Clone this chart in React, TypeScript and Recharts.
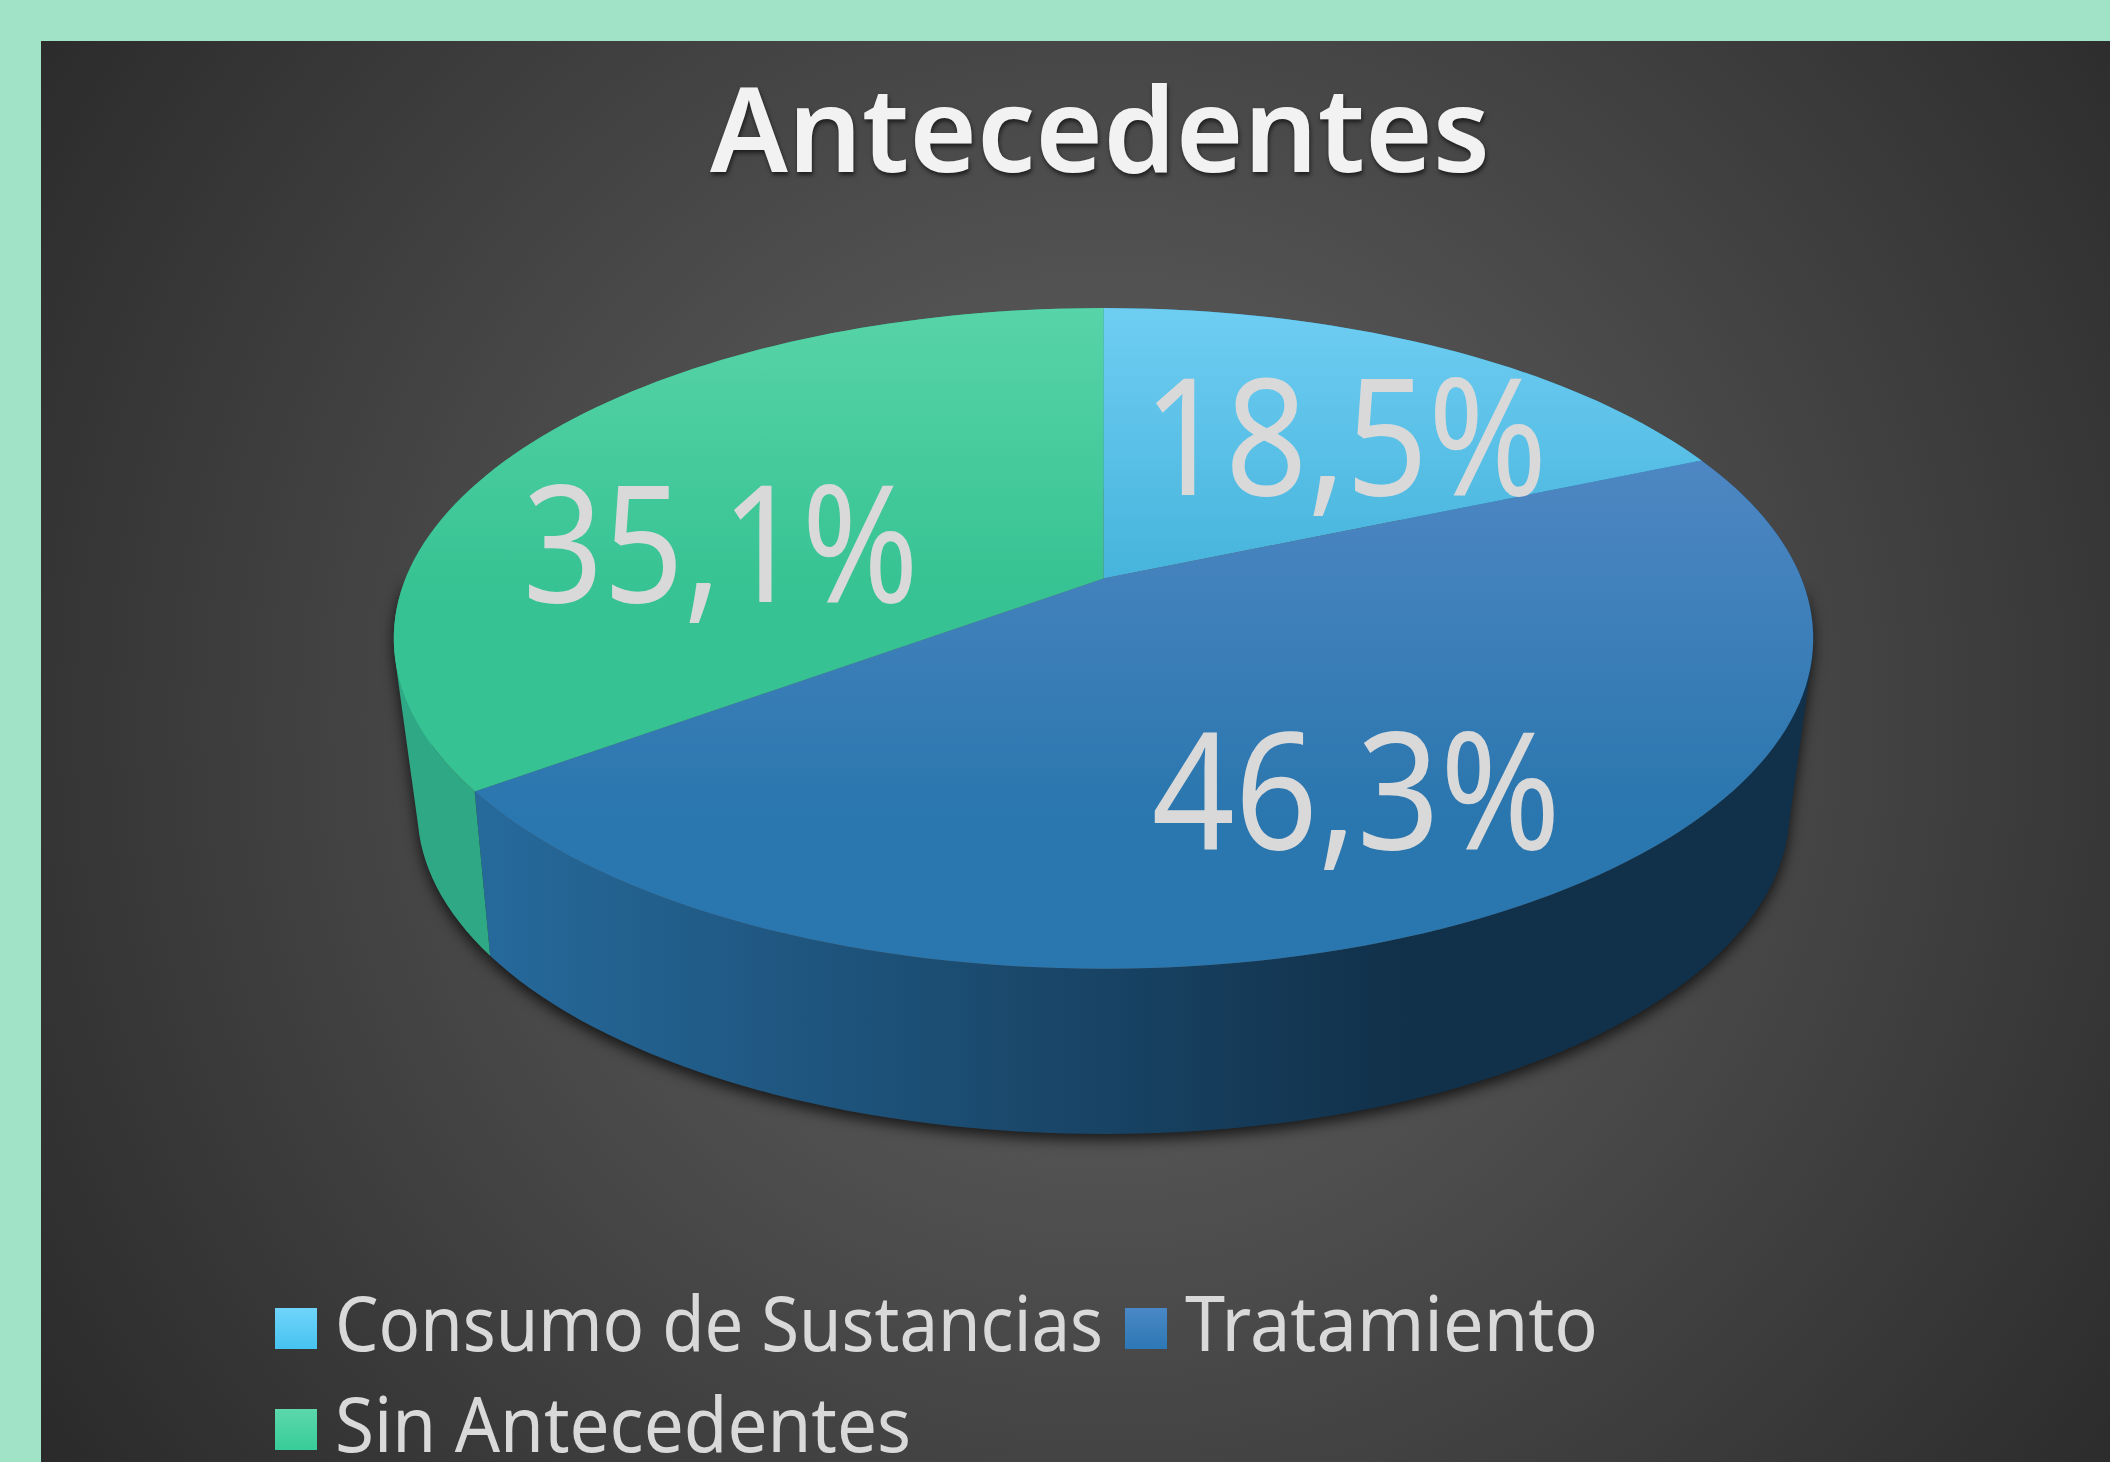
import { Legend, Pie, PieChart } from 'recharts';

const categories = ['Consumo de Sustancias', 'Tratamiento', 'Sin Antecedentes'];
const percentages = [18.5, 46.3, 35.1];
const percentLabels = ['18,5%', '46,3%', '35,1%'];
const chartTitle = 'Antecedentes';

const topColors = [
  ['#6FCDF2', '#46B4DC'],
  ['#4E87C3', '#2A76AE'],
  ['#57D4A8', '#36C292'],
];
// where each top gradient reaches its end colour
const topStops = [1, 0.7, 0.6];
const wallColors = [
  ['#2E92B5', '#2E92B5'],
  ['#266A9C', '#113049'],
  ['#2FA985', '#2FA783'],
];
const legendColors = [
  ['#70D4FA', '#46C3F0'],
  ['#4A88C6', '#2C78B5'],
  ['#5CD8AC', '#37CC98'],
];
// nudges from the projected mid-slice point to the text anchor
const labelNudges = [
  [-1, 85],
  [-21, 53],
  [30, 119],
];
const labelWidths = [404, 409, 396];
const legendWidths = [768, 413, 576];

const WIDTH = 2110;
const HEIGHT = 1462;
const FONT = '"Noto Sans", sans-serif';

// perspective of the top disc
const SQUASH = 0.4577;
const TILT = 0.181;
// perspective of the lower rim
const LOW_WIDTH = 0.963;
const LOW_SQUASH = 0.444;
const LOW_TILT = 0.2;
const LOW_DROP = 168;

const rows = categories.map((name, i) => ({ name, value: percentages[i], fill: legendColors[i][1] }));

function project(p: any, deg: number, r = 1) {
  const rad = (deg * Math.PI) / 180;
  const u = r * Math.cos(rad);
  const v = -r * Math.sin(rad);
  const w = 1 - TILT * v;
  return { x: p.cx + (p.outerRadius * u) / w, y: p.cy + (p.outerRadius * SQUASH * v) / w };
}

function projectLow(p: any, deg: number) {
  const rad = (deg * Math.PI) / 180;
  const u = Math.cos(rad);
  const v = -Math.sin(rad);
  const w = 1 - LOW_TILT * v;
  return {
    x: p.cx + (p.outerRadius * LOW_WIDTH * u) / w,
    y: p.cy + LOW_DROP + (p.outerRadius * LOW_SQUASH * v) / w,
  };
}

function sweep(p: any) {
  const steps = Math.ceil(Math.abs(p.endAngle - p.startAngle) / 1.5);
  const angles: number[] = [];
  for (let i = 0; i <= steps; i++) {
    angles.push(p.startAngle + ((p.endAngle - p.startAngle) * i) / steps);
  }
  return angles;
}

// one quad per step so the straight silhouette between the two rims gets filled
function wallPath(p: any, frontOnly = false) {
  const angles = sweep(p);
  let d = '';
  for (let i = 0; i < angles.length - 1; i++) {
    if (frontOnly && Math.sin((angles[i] * Math.PI) / 180) > 0) continue;
    const quad = [
      project(p, angles[i]),
      project(p, angles[i + 1]),
      projectLow(p, angles[i + 1]),
      projectLow(p, angles[i]),
    ];
    let area = 0;
    quad.forEach((a, k) => {
      const b = quad[(k + 1) % 4];
      area += a.x * b.y - b.x * a.y;
    });
    if (area < 0) quad.reverse();
    d += `M${quad.map((q) => `${q.x},${q.y}`).join(' L')} Z `;
  }
  return d;
}

function TopFace(props: any) {
  const i = categories.indexOf(props.name);
  const arc = sweep(props).map((a) => {
    const q = project(props, a);
    return `${q.x},${q.y}`;
  });
  return <path d={`M${props.cx},${props.cy} L${arc.join(' L')} Z`} fill={`url(#top${i})`} />;
}

function WallFace(props: any) {
  const i = categories.indexOf(props.name);
  return <path d={wallPath(props)} fill={`url(#wall${i})`} />;
}

function ShadowFace(props: any) {
  return (
    <path
      d={wallPath(props, true)}
      fill="#000"
      fillOpacity={0.7}
      transform="translate(0,6)"
      style={{ filter: 'blur(7px)' }}
    />
  );
}

function SliceLabel(props: any) {
  const i = categories.indexOf(props.name);
  const q = project(props, props.midAngle, 0.7);
  const w = labelWidths[i];
  return (
    <text
      x={q.x + labelNudges[i][0] - w / 2}
      y={q.y + labelNudges[i][1]}
      fill="#D9D9D9"
      fontFamily={FONT}
      fontSize={163}
      textLength={w}
      lengthAdjust="spacingAndGlyphs"
    >
      {percentLabels[i]}
    </text>
  );
}

function LegendBlock({ payload }: any) {
  // all three Pie layers report entries, keep one per category
  const entries = categories.filter((name) => (payload || []).some((e: any) => e.value === name));
  return (
    <svg width={1400} height={150} style={{ display: 'block', overflow: 'visible' }}>
      <defs>
        {legendColors.map((c, i) => (
          <linearGradient key={i} id={`key${i}`} x1="0" y1="0" x2="0" y2="1">
            <stop offset="0" stopColor={c[0]} />
            <stop offset="1" stopColor={c[1]} />
          </linearGradient>
        ))}
      </defs>
      {entries.map((name) => {
        const i = categories.indexOf(name);
        const left = i === 1 ? 850 : 0;
        const top = i === 2 ? 101 : 0;
        return (
          <g key={name}>
            <rect x={left} y={top} width={42} height={41} fill={`url(#key${i})`} />
            <text
              x={left + 60}
              y={top + 43}
              fill="#D9D9D9"
              fontFamily={FONT}
              fontSize={76}
              textLength={legendWidths[i]}
              lengthAdjust="spacingAndGlyphs"
            >
              {name}
            </text>
          </g>
        );
      })}
    </svg>
  );
}

export default function App() {
  return (
    <div
      style={{
        position: 'absolute',
        left: 0,
        top: 0,
        width: WIDTH,
        height: HEIGHT,
        overflow: 'hidden',
        background: '#A0E3C6',
      }}
    >
      <div
        style={{
          position: 'absolute',
          left: 41,
          top: 41,
          right: 0,
          bottom: 0,
          background: 'radial-gradient(circle 1290px at 1062px 679px, #666666, #2a2a2a)',
        }}
      />
      <div style={{ position: 'absolute', left: 0, top: 0 }}>
        <PieChart width={WIDTH} height={HEIGHT} margin={{ top: 0, right: 0, bottom: 0, left: 0 }}>
          <defs>
            {topColors.map((c, i) => (
              <linearGradient key={i} id={`top${i}`} x1="0" y1="0" x2="0" y2="1">
                <stop offset="0" stopColor={c[0]} />
                <stop offset={topStops[i]} stopColor={c[1]} />
              </linearGradient>
            ))}
            {wallColors.map((c, i) => (
              <linearGradient key={i} id={`wall${i}`} x1="0" y1="0" x2="1" y2="0">
                <stop offset="0" stopColor={c[0]} />
                <stop offset="0.7" stopColor={c[1]} />
                <stop offset="1" stopColor={c[1]} />
              </linearGradient>
            ))}
          </defs>
          <text
            x={710}
            y={172}
            fill="#F2F2F2"
            fontFamily={FONT}
            fontWeight={600}
            fontSize={118}
            textLength={780}
            lengthAdjust="spacingAndGlyphs"
            style={{ filter: 'drop-shadow(1px 3px 2px rgba(0,0,0,0.6))' }}
          >
            {chartTitle}
          </text>
          <Pie
            data={rows}
            dataKey="value"
            nameKey="name"
            cx={1103.5}
            cy={578.6}
            outerRadius={698}
            startAngle={90}
            endAngle={-270}
            stroke="none"
            legendType="none"
            shape={ShadowFace}
            isAnimationActive={false}
          />
          <Pie
            data={rows}
            dataKey="value"
            nameKey="name"
            cx={1103.5}
            cy={578.6}
            outerRadius={698}
            startAngle={90}
            endAngle={-270}
            stroke="none"
            legendType="none"
            shape={WallFace}
            isAnimationActive={false}
          />
          <Pie
            data={rows}
            dataKey="value"
            nameKey="name"
            cx={1103.5}
            cy={578.6}
            outerRadius={698}
            startAngle={90}
            endAngle={-270}
            stroke="none"
            shape={TopFace}
            label={SliceLabel}
            labelLine={false}
            isAnimationActive={false}
          />
          <Legend
            content={LegendBlock}
            wrapperStyle={{ position: 'absolute', left: 275, top: 1308, bottom: 'auto', width: 1400 }}
          />
        </PieChart>
      </div>
    </div>
  );
}
